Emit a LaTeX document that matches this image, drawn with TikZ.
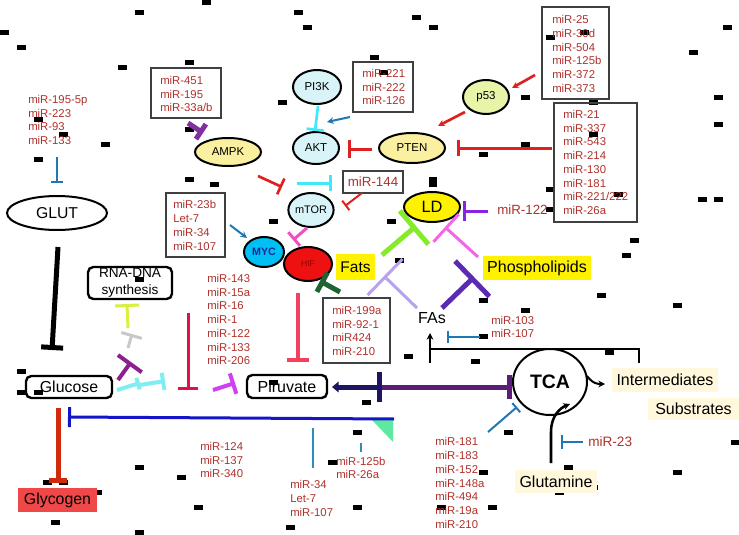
\documentclass[tikz,border=0pt]{standalone}
\usepackage{fontspec}
\setmainfont{Liberation Sans}
\usetikzlibrary{arrows.meta,shapes.geometric}
\definecolor{mirred}{HTML}{B0302A}
\definecolor{boxgray}{HTML}{404040}
\definecolor{tblue}{HTML}{1E78B4}
\definecolor{deepblue}{HTML}{1414C8}
\definecolor{lblue}{HTML}{2C8EC0}
\definecolor{glyred}{HTML}{F04848}
\definecolor{glyline}{HTML}{D02A0A}
\definecolor{navyln}{HTML}{1E1464}
\definecolor{purpln}{HTML}{5A1E78}
\definecolor{lavend}{HTML}{B8A2EE}
\definecolor{dpurp}{HTML}{5A2AB0}
\definecolor{fgreen}{HTML}{84EA2A}
\definecolor{ppink}{HTML}{F266EA}
\definecolor{violet}{HTML}{8A22E6}
\definecolor{dgreen}{HTML}{1E6432}
\definecolor{hifred}{HTML}{F2405E}
\definecolor{crimson}{HTML}{E0104A}
\definecolor{magen}{HTML}{D040F0}
\definecolor{lcyan}{HTML}{7EEEF2}
\definecolor{plum}{HTML}{8C2090}
\definecolor{lgray}{HTML}{C8C8C8}
\definecolor{ygreen}{HTML}{DAF040}
\definecolor{ampkpurp}{HTML}{8030A0}
\definecolor{cyanln}{HTML}{40E8F8}
\definecolor{redln}{HTML}{E02020}
\definecolor{pinkln}{HTML}{F050C0}
\definecolor{paleyel}{HTML}{FFF8DC}
\definecolor{lyel}{HTML}{FAF0A0}
\definecolor{p53col}{HTML}{E8F4A8}
\definecolor{palecyan}{HTML}{D8F4F8}
\definecolor{mycfill}{HTML}{00BFF3}
\definecolor{mycnavy}{HTML}{14289A}
\definecolor{hiffill}{HTML}{EE1111}
\definecolor{hiftext}{HTML}{A00000}
\definecolor{trigreen}{HTML}{5EE8A0}
\begin{document}
\begin{tikzpicture}[x=0.75pt,y=-0.75pt,
  mirtxt/.style={text=mirred, font=\fontsize{8.5}{10.3}\selectfont, align=left, inner sep=0pt},
  mirbox/.style={draw=boxgray, line width=0.8pt, inner sep=0pt},
  oval/.style={ellipse, draw=black, line width=1.5pt, inner sep=0pt},
  rbox/.style={draw=black, line width=1.8pt, rounded corners=4pt, inner sep=0pt},
  lbl/.style={inner sep=0pt, font=\fontsize{12}{14}\selectfont},
  smallf/.style={font=\fontsize{8.6}{10}\selectfont},
  inh/.style={-{Bar[width=#1]}},
  arr/.style={-{Stealth[length=5pt,width=5pt]}}
]
\useasboundingbox (0,0) rectangle (739,535);

% ---------- noise dashes ----------
\foreach \x/\y in {206/3,139/13,4/33,21/48,122/68,189/63,38/119,63/134,105/144,38/159,189/129,189/179,214/184,
298/13,307/28,416/18,433/28,374/58,383/73,282/103,483/154,
727/28,693/53,550/38,584/33,525/98,718/98,593/103,718/124,593/134,525/144,550/189,618/194,702/199,718/199,550/209,634/240,
139/279,21/371,273/221,391/221,399/260,483/300,408/356,475/361,483/336,
626/255,577/271,601/295,677/305,525/310,609/352,
21/392,38/392,139/467,181/477,97/492,47/482,63/482,198/507,55/522,139/532,
273/382,366/402,357/432,332/462,357/507,290/527,483/472,441/507,492/507,
508/432,735/442,568/467,677/472,559/492,576/487,593/487}
  {\fill[black] (\x-4.5,\y-2.5) rectangle (\x+4.5,\y+2.5);}
\fill[black] (429,177) rectangle (437,187);

% ---------- boxes of miRNAs ----------
\node[mirbox, minimum width=52.5pt, minimum height=37.5pt] (b451) at (186,93) {};
\node[mirtxt, anchor=west] (t451) at (160,94) {miR-451\\miR-195\\miR-33a/b};
\node[mirbox, minimum width=45pt, minimum height=37.5pt] (b221) at (383,87) {};
\node[mirtxt, anchor=west] (t221) at (362,87) {miR-221\\miR-222\\miR-126};
\node[mirbox, minimum width=50.25pt, minimum height=69pt] (b25) at (575.5,53) {};
\node[mirtxt, anchor=west] (t25) at (552,54) {miR-25\\miR-30d\\miR-504\\miR-125b\\miR-372\\miR-373};
\node[mirbox, minimum width=62.25pt, minimum height=89.25pt] (b21) at (595.5,162.5) {};
\node[mirtxt, anchor=west] (t21) at (563,162.5) {miR-21\\miR-337\\miR-543\\miR-214\\miR-130\\miR-181\\miR-221/222\\miR-26a};
\node[mirbox, minimum width=45pt, minimum height=16.5pt] (b144) at (373,182) {};
\node[mirtxt, font=\fontsize{10}{12}\selectfont] (t144) at (373,182) {miR-144};
\node[mirbox, minimum width=44.25pt, minimum height=48pt] (b23b) at (195.5,225) {};
\node[mirtxt, anchor=west] (t23b) at (173,225.5) {miR-23b\\Let-7\\miR-34\\miR-107};
\node[mirbox, minimum width=50.25pt, minimum height=48.75pt] (b199) at (356.5,330.5) {};
\node[mirtxt, anchor=west] (t199) at (332,331) {miR-199a\\miR-92-1\\miR424\\miR-210};

% ---------- free miRNA lists ----------
\node[mirtxt, anchor=west] (l195) at (28,120) {miR-195-5p\\miR-223\\miR-93\\miR-133};
\node[mirtxt, anchor=west] (l143) at (207,319.5) {miR-143\\miR-15a\\miR-16\\miR-1\\miR-122\\miR-133\\miR-206};
\node[mirtxt, anchor=west] (l124) at (200,460) {miR-124\\miR-137\\miR-340};
\node[mirtxt, anchor=west] (l34) at (290,498.5) {miR-34\\Let-7\\miR-107};
\node[mirtxt, anchor=west] (l125) at (336,468) {miR-125b\\miR-26a};
\node[mirtxt, anchor=west] (l181) at (435,483) {miR-181\\miR-183\\miR-152\\miR-148a\\miR-494\\miR-19a\\miR-210};
\node[mirtxt, anchor=west] (l103) at (491,327) {miR-103\\miR-107};
\node[mirtxt, anchor=west, font=\fontsize{10}{12}\selectfont] (l122) at (497,210) {miR-122};
\node[mirtxt, anchor=west, font=\fontsize{10.2}{12}\selectfont] (l23) at (588,442) {miR-23};

% ---------- main nodes ----------
\node[oval, minimum width=75pt, minimum height=25.5pt, font=\fontsize{11.8}{13}\selectfont] (glut) at (57,213) {GLUT};
\node[rbox, minimum width=64.5pt, minimum height=16.5pt, font=\fontsize{11.9}{13}\selectfont] (glucose) at (69,387) {Glucose};
\node[fill=glyred, inner sep=0pt, minimum width=59.25pt, minimum height=18pt, font=\fontsize{11.9}{13}\selectfont] (glycogen) at (57.5,500) {Glycogen};
\node[rbox, minimum width=63pt, minimum height=24pt, align=center, font=\fontsize{10.2}{12.7}\selectfont] (rna) at (130,283) {RNA-DNA\\synthesis};
\node[rbox, minimum width=60pt, minimum height=17.25pt, font=\fontsize{12}{13}\selectfont] (piruvate) at (287,386.5) {Piruvate};
\node[oval, minimum width=55.5pt, minimum height=49.5pt, font=\bfseries\fontsize{14.6}{16}\selectfont] (tca) at (550,382) {TCA};
\node[lbl, fill=paleyel, minimum width=79.5pt, minimum height=18pt] (inter) at (665,380) {Intermediates};
\node[lbl, fill=paleyel, minimum width=68.25pt, minimum height=16.5pt] (subs) at (693.5,409) {Substrates};
\node[lbl, fill=paleyel, minimum width=61.5pt, minimum height=17.25pt] (glutamine) at (556,481.5) {Glutamine};
\node[lbl, fill=yellow, minimum width=29.25pt, minimum height=19.5pt, font=\fontsize{11.6}{13}\selectfont] (fats) at (355.5,267) {Fats};
\node[lbl, fill=yellow, minimum width=81pt, minimum height=18pt] (phos) at (537,268) {Phospholipids};
\node[lbl] (fas) at (432,318) {FAs};
\node[oval, fill=yellow, minimum width=42pt, minimum height=22.5pt, font=\fontsize{12.3}{13}\selectfont] (ld) at (432,207) {LD};
\node[oval, fill=mycfill, minimum width=30pt, minimum height=22.5pt, text=mycnavy, font=\bfseries\fontsize{8}{9}\selectfont] (myc) at (264,252) {MYC};
\node[oval, fill=hiffill, minimum width=36pt, minimum height=25.5pt, text=hiftext, font=\fontsize{6.5}{7}\selectfont] (hif) at (308,264) {HIF};
\node[oval, fill=palecyan, minimum width=33pt, minimum height=25.5pt, font=\fontsize{8.2}{9}\selectfont] (mtor) at (311,210) {mTOR};
\node[oval, fill=palecyan, minimum width=34.5pt, minimum height=24pt, smallf] (akt) at (316,148) {AKT};
\node[oval, fill=palecyan, minimum width=36pt, minimum height=25.5pt, smallf] (pi3k) at (317,87) {PI3K};
\node[oval, fill=lyel, minimum width=49.5pt, minimum height=22.5pt, smallf] (pten) at (412,148) {PTEN};
\node[oval, fill=p53col, minimum width=34.5pt, minimum height=25.5pt, smallf] (p53) at (486,97) {p53};
\node[oval, fill=lyel, minimum width=49.5pt, minimum height=21pt, smallf] (ampk) at (228,152) {AMPK};

% ---------- coordinates for connector ends ----------
\coordinate (g1) at (57,157);   \coordinate (g2) at (57,183);
\coordinate (k1) at (58,247);   \coordinate (k2) at (52,350);
\coordinate (y1) at (58,408);   \coordinate (y2) at (58,483);
\coordinate (bl1) at (394,419); \coordinate (bl2) at (68,417);
\coordinate (v1) at (313,428);  \coordinate (v2) at (313,468);
\coordinate (v3) at (361,443);  \coordinate (v4) at (361,452);
\coordinate (t1) at (372,420);  \coordinate (t2) at (393,420); \coordinate (t3) at (393,442);
\coordinate (pv1) at (382,387); \coordinate (pv2) at (332,387); \coordinate (pv3) at (512,387);
\coordinate (f1) at (430,363);  \coordinate (f2) at (430,333);
\coordinate (f3) at (430,349);  \coordinate (f4) at (639,363);
\coordinate (m1) at (480,337);  \coordinate (m2) at (447,337);
\coordinate (la1) at (417,308); \coordinate (la2) at (384,276);
\coordinate (dp1) at (442,308); \coordinate (dp2) at (474,277);
\coordinate (gr1) at (382,255); \coordinate (gr2) at (416,226);
\coordinate (pk1) at (478,257); \coordinate (pk2) at (445,227);
\coordinate (vi1) at (488,211); \coordinate (vi2) at (463,211);
\coordinate (dg1) at (340,292); \coordinate (dg2) at (320,281);
\coordinate (h1) at (298,293);  \coordinate (h2) at (298,362);
\coordinate (c1) at (188,313);  \coordinate (c2) at (188,390);
\coordinate (mg1) at (213,390); \coordinate (mg2) at (235,383);
\coordinate (lc1) at (117,390); \coordinate (lc2) at (140,383);
\coordinate (lc3) at (140,385); \coordinate (lc4) at (165,381);
\coordinate (pl1) at (118,380); \coordinate (pl2) at (131,362);
\coordinate (gy1) at (128,348); \coordinate (gy2) at (132,334);
\coordinate (yg1) at (128,328); \coordinate (yg2) at (127,304);
\coordinate (am1) at (188,123); \coordinate (am2) at (203,133);
\coordinate (ak1) at (350,117); \coordinate (ak2) at (327,122);
\coordinate (pi1) at (318,106); \coordinate (pi2) at (315,131);
\coordinate (pt1) at (372,149); \coordinate (pt2) at (348,149);
\coordinate (pb1) at (552,148); \coordinate (pb2) at (457,148);
\coordinate (p1) at (535,75);   \coordinate (p2) at (512,88);
\coordinate (p3) at (465,112);  \coordinate (p4) at (438,126);
\coordinate (am3) at (297,183); \coordinate (am4) at (332,183);
\coordinate (ar1) at (258,176); \coordinate (ar2) at (282,187);
\coordinate (r1) at (362,193);  \coordinate (r2) at (345,206);
\coordinate (mt1) at (307,228); \coordinate (mt2) at (293,240);
\coordinate (my1) at (230,225); \coordinate (my2) at (247,238);
\coordinate (tc1) at (488,432); \coordinate (tc2) at (517,407);
\coordinate (gl1) at (551,463); \coordinate (gl2) at (551,432); \coordinate (gl3) at (570,404);
\coordinate (ti1) at (587,376); \coordinate (ti2) at (605,384);
\coordinate (m23a) at (583,442); \coordinate (m23b) at (561,442);

% ---------- connectors ----------
\draw[tblue, line width=1.5pt, inh=9pt] (g1) -- (g2);
\draw[black, line width=3.75pt, inh=16.5pt] (k1) -- (k2);
\draw[glyline, line width=3.75pt, inh=14pt] (y1) -- (y2);
\fill[trigreen] (t1) -- (t2) -- (t3) -- cycle;
\draw[deepblue, line width=2.25pt, inh=15pt] (bl1) -- (bl2);
\draw[lblue, line width=1.5pt] (v1) -- (v2);
\draw[lblue, line width=1.5pt] (v3) -- (v4);
\draw[navyln, line width=3.75pt, {Bar[width=22.5pt]}-{Triangle[length=5pt,width=8pt]}] (pv1) -- (pv2);
\draw[purpln, line width=3.75pt, inh=18pt] (pv1) -- (pv3);
\draw[black, line width=1.9pt, arr] (f1) -- (f2);
\draw[black, line width=1.9pt] (f3) -| (f4);
\draw[tblue, line width=1.5pt, inh=9pt] (m1) -- (m2);
\draw[lavend, line width=2.25pt, inh=37.5pt] (la1) -- (la2);
\draw[dpurp, line width=3.75pt, inh=37pt] (dp1) -- (dp2);
\draw[fgreen, line width=3.75pt, inh=33pt] (gr1) -- (gr2);
\draw[ppink, line width=2.25pt, inh=28pt] (pk1) -- (pk2);
\draw[violet, line width=2.25pt, inh=15pt] (vi1) -- (vi2);
\draw[dgreen, line width=3.75pt, inh=16.5pt] (dg1) -- (dg2);
\draw[hifred, line width=3pt, inh=17pt] (h1) -- (h2);
\draw[crimson, line width=2.25pt, inh=15pt] (c1) -- (c2);
\draw[magen, line width=3pt, inh=16pt] (mg1) -- (mg2);
\draw[lcyan, line width=3pt, inh=9pt] (lc1) -- (lc2);
\draw[lcyan, line width=3pt, inh=13pt] (lc3) -- (lc4);
\draw[plum, line width=3pt, inh=22pt] (pl1) -- (pl2);
\draw[lgray, line width=2.25pt, inh=16pt] (gy1) -- (gy2);
\draw[ygreen, line width=2.25pt, inh=18pt] (yg1) -- (yg2);
\draw[ampkpurp, line width=3.75pt, inh=13.5pt] (am1) -- (am2);
\draw[tblue, line width=1.5pt, arr] (ak1) -- (ak2);
\draw[cyanln, line width=2pt, inh=13pt] (pi1) -- (pi2);
\draw[redln, line width=2.25pt, inh=13pt] (pt1) -- (pt2);
\draw[redln, line width=2.25pt, inh=12pt] (pb1) -- (pb2);
\draw[redln, line width=2pt, arr] (p1) -- (p2);
\draw[redln, line width=2pt, arr] (p3) -- (p4);
\draw[cyanln, line width=2.25pt, inh=12pt] (am3) -- (am4);
\draw[redln, line width=2pt, inh=13pt] (ar1) -- (ar2);
\draw[redln, line width=1.5pt, inh=9pt] (r1) -- (r2);
\draw[pinkln, line width=2.25pt, inh=13.5pt] (mt1) -- (mt2);
\draw[tblue, line width=1.5pt, arr] (my1) -- (my2);
\draw[tblue, line width=1.5pt, inh=9pt] (tc1) -- (tc2);
\draw[black, line width=1.9pt, arr] (gl1) -- (gl2) .. controls (551,416) and (560,408) .. (gl3);
\draw[black, line width=1.5pt, arr] (ti1) .. controls (593,384) and (598,384) .. (ti2);
\draw[tblue, line width=1.5pt, inh=10.5pt] (m23a) -- (m23b);
\end{tikzpicture}
\end{document}
